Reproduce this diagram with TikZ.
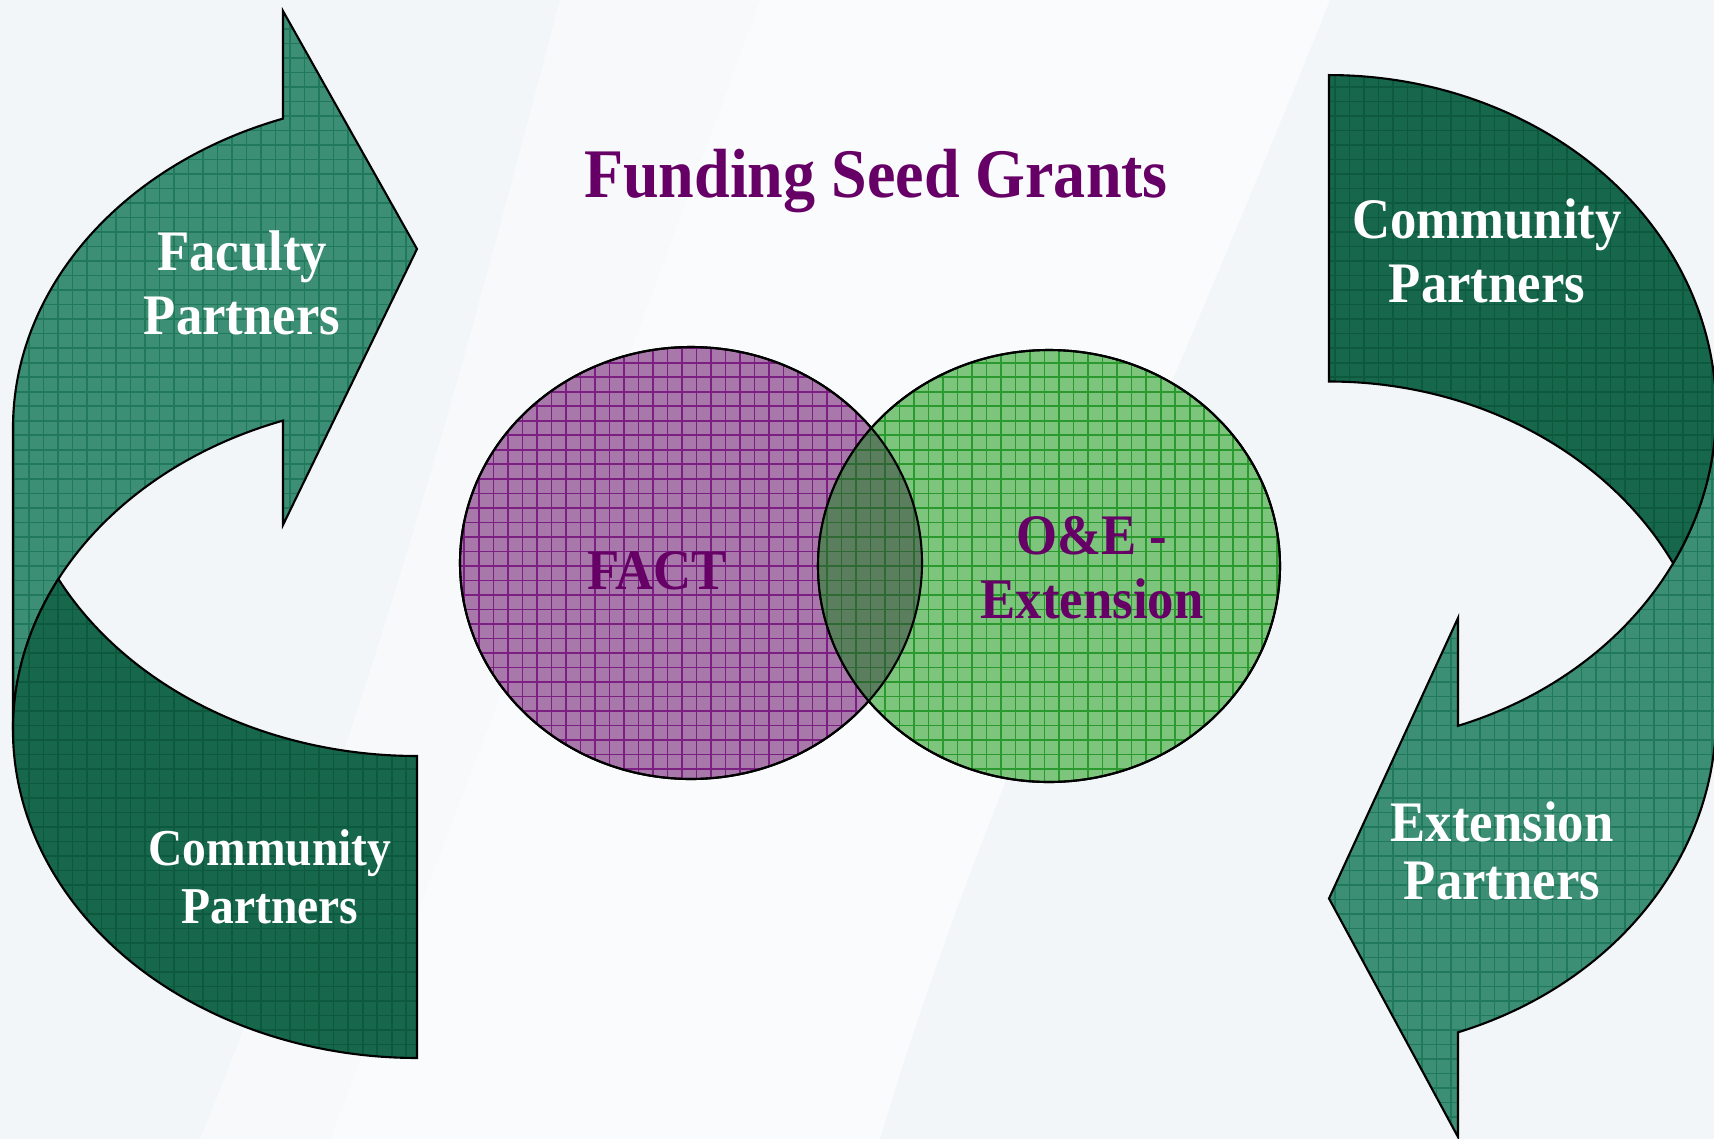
\documentclass[tikz,border=0pt]{standalone}
\usepackage{fontspec}
\setmainfont{Liberation Serif}[FakeStretch=0.92]
\usetikzlibrary{positioning}

\definecolor{slidebg}{HTML}{F2F6F8}
\definecolor{lightgreen}{HTML}{3C8F74}
\definecolor{lightgreengrid}{HTML}{1F795A}
\definecolor{darkgreen}{HTML}{16674C}
\definecolor{darkgreengrid}{HTML}{0D593D}
\definecolor{factfill}{HTML}{A978AB}
\definecolor{factgrid}{HTML}{7B1F82}
\definecolor{oefill}{HTML}{7DC47D}
\definecolor{oegrid}{HTML}{2A9A2E}
\definecolor{lensfill}{HTML}{5B7F5E}
\definecolor{lensgrid}{HTML}{2F6A35}
\definecolor{titlepurple}{HTML}{660066}

\tikzset{
  gridfill/.style 2 args={fill=#1,
    path picture={\draw[#2, line width=0.45pt]
      (path picture bounding box.south west) grid[step=0.145cm]
      (path picture bounding box.north east);}},
  outline/.style={draw=black, line width=0.6pt},
  partner/.style={align=center, text=white,
    font=\fontsize{16.3}{18.2}\selectfont\bfseries},
  venn/.style={align=center, text=titlepurple,
    font=\fontsize{16.3}{18.2}\selectfont\bfseries},
}

\begin{document}
\begin{tikzpicture}[x=0.01cm, y=-0.01cm]
  % Background
  \fill[slidebg] (0,0) rectangle (1714,1139);
  \fill[white, opacity=0.6] (760,0) -- (1330,0)
    .. controls (1150,450) and (980,800) .. (880,1139) -- (330,1139)
    .. controls (500,700) and (640,330) .. cycle;
  \fill[white, opacity=0.4] (560,0) -- (760,0)
    .. controls (640,330) and (500,700) .. (330,1139) -- (200,1139)
    .. controls (380,700) and (480,300) .. cycle;
  \useasboundingbox (0,0) rectangle (1714,1139);

  % Left curved arrow
  \path[gridfill={lightgreen}{lightgreengrid}, outline]
    (13,428) -- (13,730)
    arc[start angle=180, end angle=250.63, x radius=404, y radius=328]
    -- (283,525) -- (417,249) -- (283,11) -- (283,118.6)
    arc[start angle=250.63, end angle=180, x radius=404, y radius=328]
    -- cycle;
  \path[gridfill={darkgreen}{darkgreengrid}, outline]
    (417,756)
    arc[start angle=90, end angle=152.59, x radius=404, y radius=328]
    arc[start angle=207.41, end angle=90, x radius=404, y radius=328]
    -- cycle;

  % Right curved arrow
  \path[gridfill={lightgreen}{lightgreengrid}, outline]
    (1716,716.5) -- (1716,410)
    arc[start angle=0, end angle=70.53, x radius=387, y radius=335]
    -- (1458,618) -- (1329,898.5) -- (1458,1137) -- (1458,1032.3)
    arc[start angle=70.53, end angle=0, x radius=387, y radius=335]
    -- cycle;
  \path[gridfill={darkgreen}{darkgreengrid}, outline]
    (1329,381.5)
    arc[start angle=270, end angle=332.78, x radius=387, y radius=335]
    arc[start angle=27.22, end angle=-90, x radius=387, y radius=335]
    -- cycle;

  % Circles
  \path[gridfill={factfill}{factgrid}, outline]
    (691,563) ellipse[x radius=231, y radius=216];
  \path[gridfill={oefill}{oegrid}, outline]
    (1049,566) ellipse[x radius=231, y radius=216];
  \begin{scope}
    \clip (691,563) ellipse[x radius=231, y radius=216];
    \path[gridfill={lensfill}{lensgrid}]
      (1049,566) ellipse[x radius=231, y radius=216];
  \end{scope}
  \draw[outline] (691,563) ellipse[x radius=231, y radius=216];
  \draw[outline] (1049,566) ellipse[x radius=231, y radius=216];

  % Labels
  \node[font=\fontsize{19.8}{22}\selectfont\bfseries, text=titlepurple]
    (title) at (876,181) {Funding Seed Grants};
  \node[partner] (faculty) at (242,283) {Faculty\\Partners};
  \node[partner, font=\fontsize{14.7}{16.4}\selectfont\bfseries]
    (commleft) at (270,877) {Community\\Partners};
  \node[partner] (commright) at (1487,251) {Community\\Partners};
  \node[partner, font=\fontsize{16.3}{16.5}\selectfont\bfseries]
    (extension) at (1502,851) {Extension\\Partners};
  \node[venn] (fact) at (657,571) {FACT};
  \node[venn] (oe) at (1092,568) {O\&E -\\Extension};
\end{tikzpicture}
\end{document}
